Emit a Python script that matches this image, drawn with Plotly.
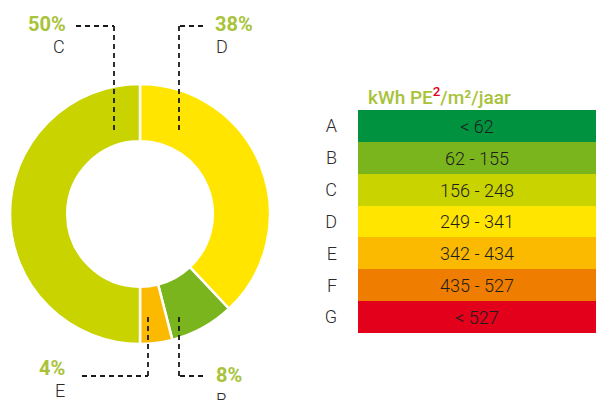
import plotly.graph_objects as go

W, H = 596, 400

# Donut: share of buildings per energy label
slice_labels = ["D", "B", "E", "C"]
slice_values = [38, 8, 4, 50]
slice_colors = ["#ffe500", "#7ab51d", "#fbba00", "#c8d300"]

# Energy label scale (kWh PE / m² / jaar)
scale_labels = ["A", "B", "C", "D", "E", "F", "G"]
scale_ranges = ["< 62", "62 - 155", "156 - 248", "249 - 341", "342 - 434", "435 - 527", "< 527"]
scale_colors = ["#00923f", "#7ab51d", "#c8d300", "#ffe500", "#fbba00", "#ef7d00", "#e2001a"]

GREEN_TXT = "#a8c33a"
FONT = "Roboto"


def px(x):
    return x / W


def py(y):
    return 1 - y / H


fig = go.Figure()

# donut centred at (140, 214) px, outer radius 130 px
fig.add_trace(go.Pie(
    labels=slice_labels,
    values=slice_values,
    marker=dict(colors=slice_colors, line=dict(color="white", width=2.5)),
    hole=0.56,
    sort=False,
    direction="clockwise",
    rotation=0,
    textinfo="none",
    hoverinfo="label+percent",
    showlegend=False,
    domain=dict(x=[px(10), px(270)], y=[py(344), py(84)]),
))

# colour scale as full-width horizontal bars
fig.add_trace(go.Bar(
    y=scale_labels,
    x=[1] * len(scale_labels),
    orientation="h",
    width=1,
    marker=dict(color=scale_colors, line=dict(width=0)),
    text=scale_ranges,
    textposition="inside",
    insidetextanchor="middle",
    textfont=dict(family=FONT, size=18, color="#1e1e1e", weight=300),
    hoverinfo="skip",
    showlegend=False,
    xaxis="x2",
    yaxis="y2",
))

# dashed leader lines (x, y in px)
leaders = [
    [(76, 26), (114, 26), (114, 130)],   # C
    [(203, 26), (179, 26), (179, 130)],  # D
    [(82, 376), (148, 376), (148, 313)],  # E
    [(203, 376), (179, 376), (179, 313)],  # B
]
shapes = []
for pts in leaders:
    for (x0, y0), (x1, y1) in zip(pts[:-1], pts[1:]):
        shapes.append(dict(
            type="line", xref="paper", yref="paper",
            x0=px(x0), y0=py(y0), x1=px(x1), y1=py(y1),
            line=dict(color="#1a1a1a", width=1.8, dash="5px,4px"),
        ))

# percentage + letter callouts: (value, letter, x centre of %, y of %, x of letter, y of letter)
callouts = [
    (slice_values[3], slice_labels[3], 47, 24, 59, 46),
    (slice_values[0], slice_labels[0], 234, 24, 222, 46),
    (slice_values[2], slice_labels[2], 52, 368, 60, 390),
    (slice_values[1], slice_labels[1], 229, 375, 221, 399),
]
annotations = []
for val, lab, xp, yp, xl, yl in callouts:
    annotations.append(dict(
        text=f"{val}%", x=px(xp), y=py(yp), xref="paper", yref="paper",
        showarrow=False, xanchor="center", yanchor="middle",
        font=dict(family=FONT, size=20, color=GREEN_TXT, weight="bold"),
    ))
    annotations.append(dict(
        text=lab, x=px(xl), y=py(yl), xref="paper", yref="paper",
        showarrow=False, xanchor="center", yanchor="middle",
        font=dict(family=FONT, size=18, color="#2b2b2b", weight=300),
    ))

annotations.append(dict(
    text="kWh PE<sup><span style='color:#e2001a'>2</span></sup>/m²/jaar",
    x=px(366), y=py(96), xref="paper", yref="paper",
    showarrow=False, xanchor="left", yanchor="middle",
    font=dict(family=FONT, size=19, color=GREEN_TXT, weight=500),
))

fig.update_layout(
    width=W, height=H,
    margin=dict(l=0, r=0, t=0, b=0),
    paper_bgcolor="white",
    plot_bgcolor="white",
    bargap=0,
    xaxis2=dict(domain=[px(358), 1], range=[0, 1], visible=False, fixedrange=True),
    yaxis2=dict(
        domain=[py(333), py(110)], anchor="x2", autorange="reversed",
        showgrid=False, zeroline=False, showline=False, ticks="",
        ticklabelstandoff=20,
        tickfont=dict(family=FONT, size=18, color="#2b2b2b", weight=300),
    ),
    shapes=shapes,
    annotations=annotations,
)

fig.write_html("out.html")
